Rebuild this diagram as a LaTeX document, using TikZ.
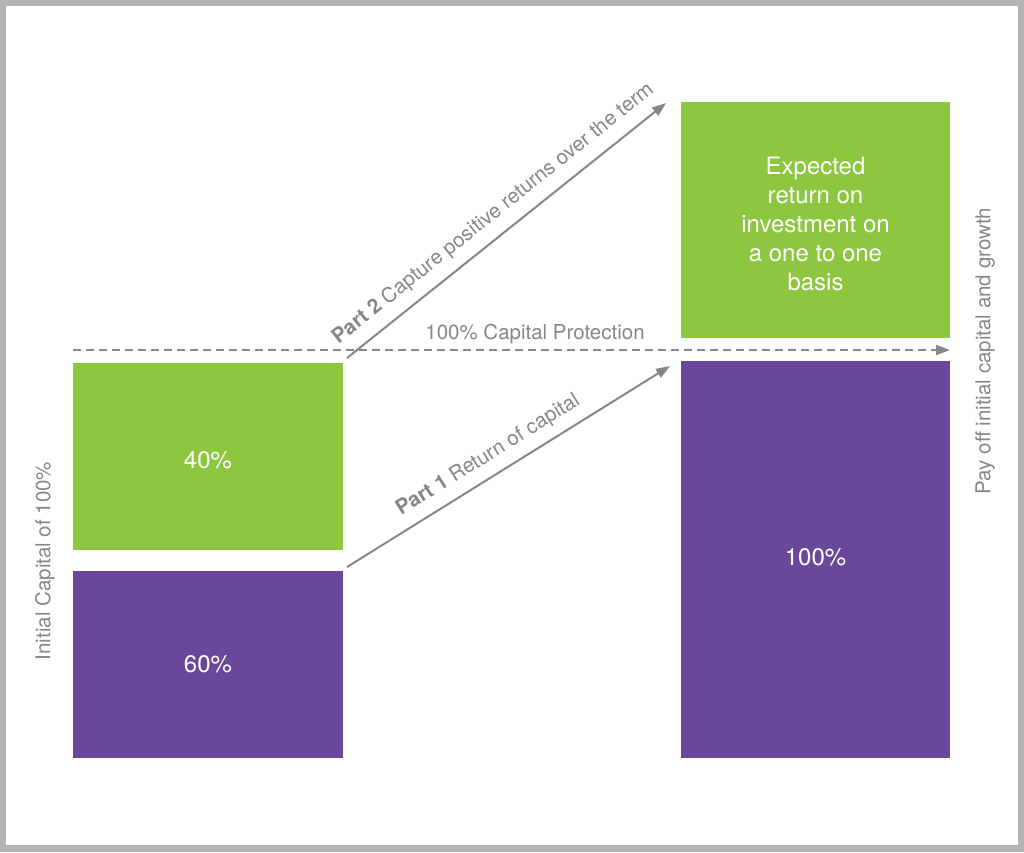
\documentclass[tikz,border=0pt]{standalone}
\usepackage{fontspec}
\setmainfont{TeX Gyre Heros}
\usetikzlibrary{arrows.meta}
\definecolor{lgreen}{HTML}{8DC63F}
\definecolor{lpurple}{HTML}{6A479B}
\definecolor{tgray}{HTML}{878787}
\definecolor{framegray}{HTML}{B3B3B3}
\begin{document}
\begin{tikzpicture}[x=1pt,y=-1pt,
  box/.style={draw=none, inner sep=0pt},
  boxtext/.style={text=white, align=center, inner sep=0pt,
    font=\fontsize{24}{29}\selectfont},
  conn/.style={draw=tgray, line width=2pt, -{Triangle[length=14pt,width=10pt]}},
  lbl/.style={text=tgray, font=\fontsize{20.5}{24}\selectfont},
]
\useasboundingbox (0,0) rectangle (1024,852);
\fill[framegray] (0,0) rectangle (1024,852);
\fill[white] (6,6) rectangle (1018,845);

\node[box, fill=lgreen, minimum width=270, minimum height=187,
  label={[boxtext, yshift=-4pt]center:40\%}] (g1) at (208,456.5) {};
\node[box, fill=lpurple, minimum width=270, minimum height=187,
  label={[boxtext]center:60\%}] (p1) at (208,664.5) {};
\node[box, fill=lgreen, minimum width=269, minimum height=236,
  label={[boxtext, yshift=-4pt]center:{Expected\\return on\\investment on\\a one to one\\basis}}] (g2) at (815.5,220) {};
\node[box, fill=lpurple, minimum width=269, minimum height=397,
  label={[boxtext, yshift=2pt]center:100\%}] (p2) at (815.5,559.5) {};

\coordinate (dS) at (73,350);
\coordinate (dE) at (950,350);
\draw[conn, dashed, dash pattern=on 8pt off 5pt] (dS) -- (dE);
\node[lbl] (prot) at (535,334) {100\% Capital Protection};

\coordinate (a2s) at (347,358);
\coordinate (a2e) at (666,103);
\draw[conn] (a2s) -- node[lbl, sloped, above=7pt, pos=0.5] (l2) {\textbf{Part 2} Capture positive returns over the term} (a2e);

\coordinate (a1s) at (347,567);
\coordinate (a1e) at (670,366);
\draw[conn] (a1s) -- node[lbl, sloped, above=6pt, pos=0.47] (l1) {\textbf{Part 1} Return of capital} (a1e);

\node[lbl, rotate=90] (lleft) at (45,561) {Initial Capital of 100\%};
\node[lbl, rotate=90] (lright) at (985,351) {Pay off initial capital and growth};
\end{tikzpicture}
\end{document}
